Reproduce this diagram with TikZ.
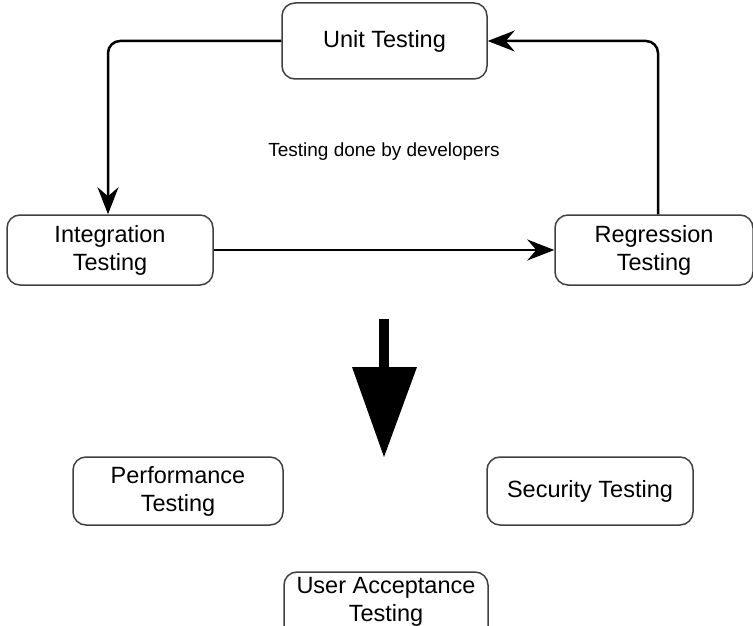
\documentclass[tikz,border=0pt]{standalone}
\usepackage{fontspec}
\setmainfont{Liberation Sans}
\usetikzlibrary{arrows.meta}
\begin{document}
\begin{tikzpicture}
		[	x=1pt,y=-1pt,
		box/.style={rectangle,rounded corners=13pt,draw=black!75,line width=1.5pt,align=center,inner sep=0pt,font=\fontsize{23.5}{28}\selectfont},
		plain/.style={draw=none,fill=none,font=\fontsize{19}{23}\selectfont},
		flow/.style={line width=2.5pt,rounded corners=12pt,-{Stealth[length=27pt,width=21pt,inset=9pt]}}
		]
		\useasboundingbox (0,0) rectangle (753,626);
		\clip (0,0) rectangle (753,626);
		\node[box,minimum width=205pt,minimum height=76pt] (unit) at (384.5,41){Unit Testing};
		\node[box,minimum width=206pt,minimum height=70pt] (integ) at (110,250){Integration\\Testing};
		\node[box,minimum width=198pt,minimum height=70pt] (regr) at (654,250){Regression\\Testing};
		\node[box,minimum width=210pt,minimum height=68pt] (perf) at (178,491){Performance\\Testing};
		\node[box,minimum width=206pt,minimum height=68pt] (secur) at (590,491){Security Testing};
		\node[box,minimum width=204pt,minimum height=70pt,
			label={[align=center,font=\fontsize{23.5}{28}\selectfont,yshift=5pt]center:User Acceptance\\Testing}] (uat) at (386,607){};
\node[plain] (note) at (384,152){Testing done by developers};
		\draw[flow] (unit.west) -| ([xshift=-2pt]integ.north);
		\draw[flow] (integ.east) -- (regr.west);
		\draw[flow] ([xshift=4pt]regr.north) |- (unit.east);
		% big arrow down
		\fill (379,319) rectangle (389,368);
		\fill (352,367) -- (417,367) -- (384,457) -- cycle;
\end{tikzpicture}
\end{document}
